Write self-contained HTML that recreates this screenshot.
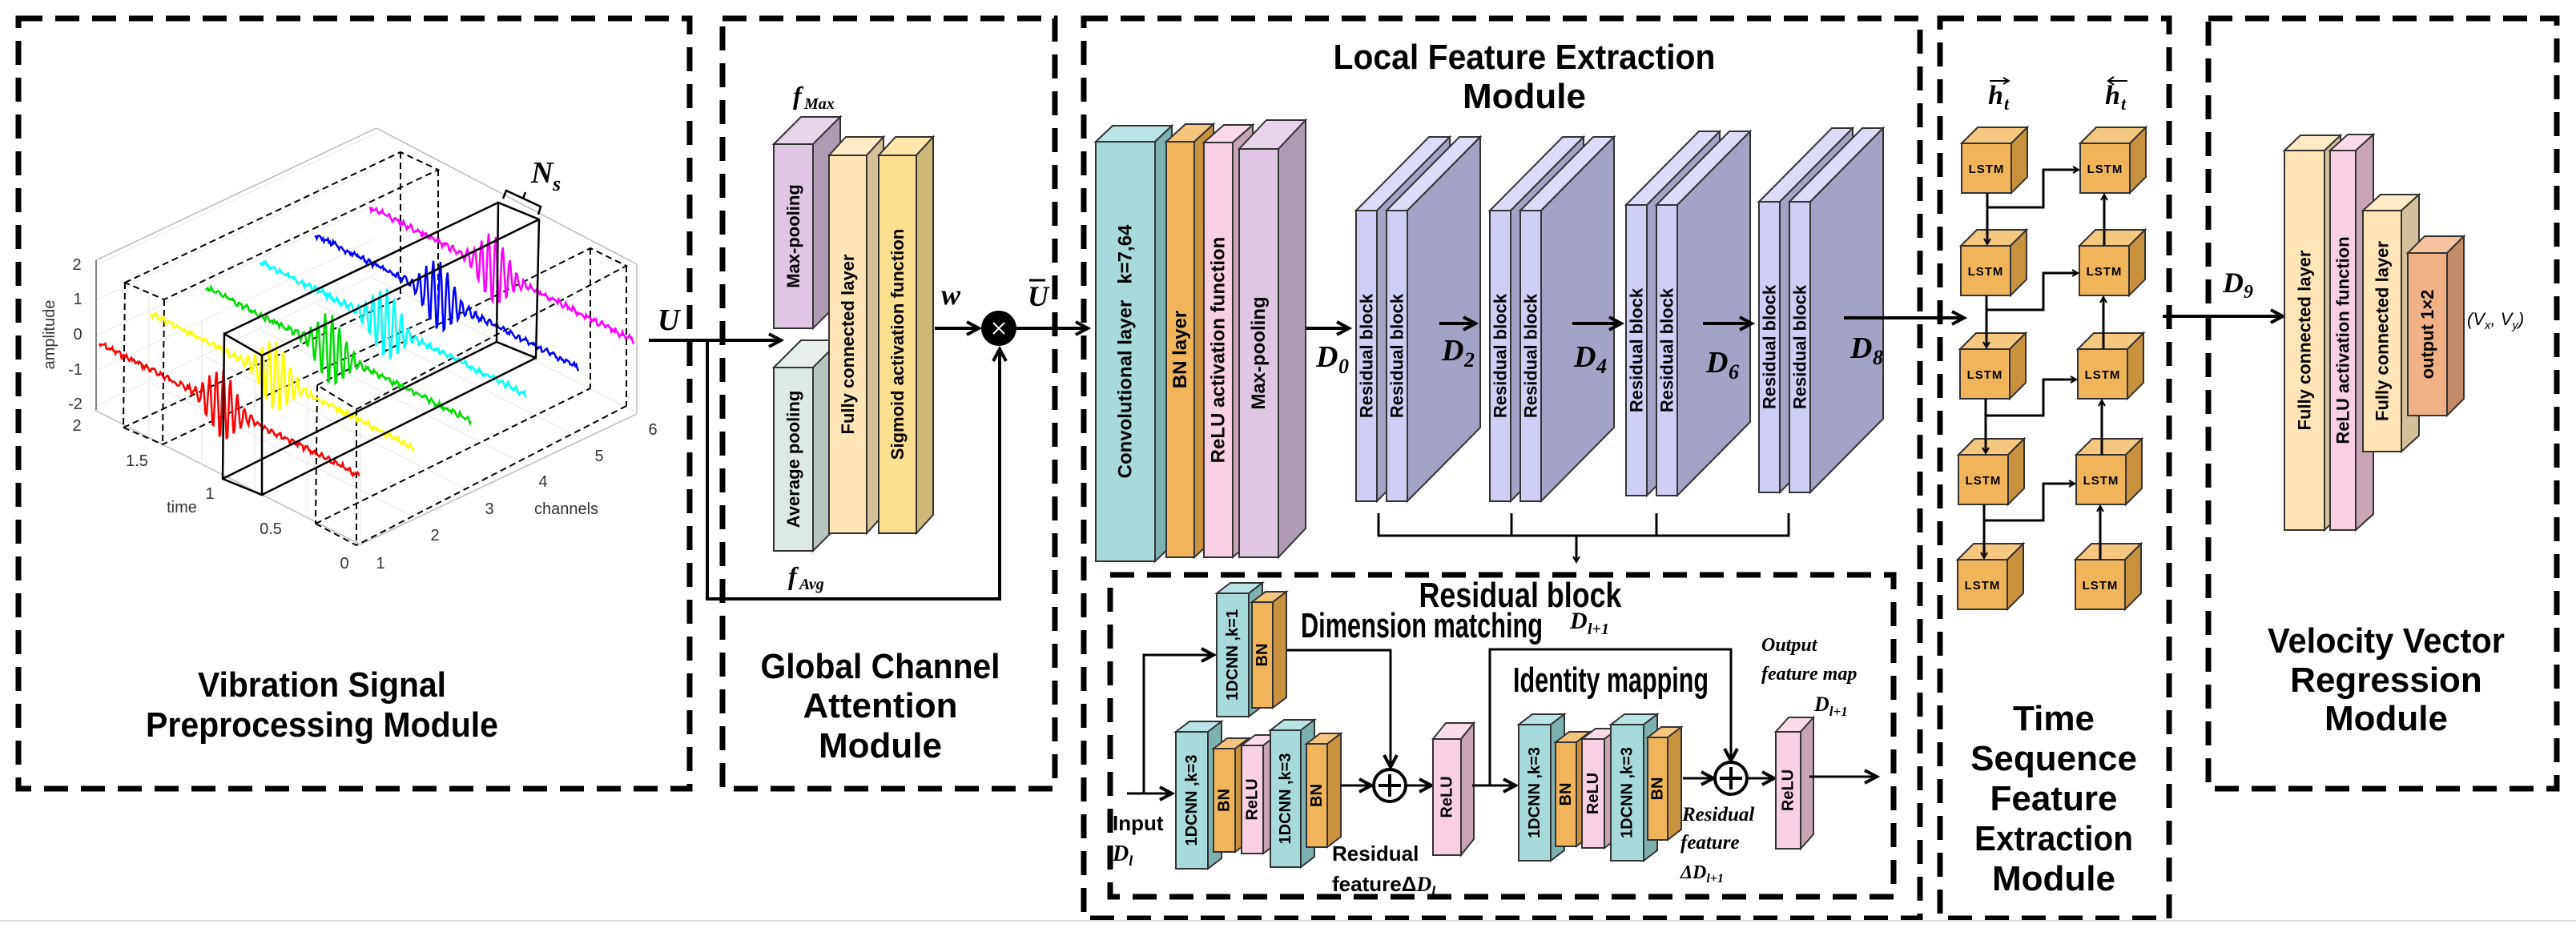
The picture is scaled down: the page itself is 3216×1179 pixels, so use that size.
<!DOCTYPE html>
<html><head><meta charset="utf-8">
<style>
html,body{margin:0;padding:0;background:#fff;}
svg{display:block;}
text{font-family:"Liberation Sans",sans-serif;}
.t{font-weight:bold;font-size:44px;text-anchor:middle;}
.m{font-family:"Liberation Serif",serif;font-weight:bold;font-style:italic;}
.lab{font-weight:bold;text-anchor:middle;dominant-baseline:central;}
.tick{font-size:20px;fill:#333;text-anchor:middle;}
</style></head>
<body>
<svg id="s" width="3216" height="1179" viewBox="0 0 3216 1179" xmlns="http://www.w3.org/2000/svg">
<defs>
<marker id="a" markerWidth="10" markerHeight="10" refX="8" refY="5" orient="auto" markerUnits="userSpaceOnUse" viewBox="0 0 10 10">
<path d="M1,1 L8,5 L1,9" fill="none" stroke="#000" stroke-width="2"/>
</marker>
<marker id="b" markerWidth="22" markerHeight="22" refX="18" refY="11" orient="auto" markerUnits="userSpaceOnUse" viewBox="0 0 22 22">
<path d="M3,3 L18,11 L3,19" fill="none" stroke="#000" stroke-width="4"/>
</marker>
</defs>
<g fill="none" stroke="#000" stroke-width="7" stroke-dasharray="30 16">
<rect x="23" y="23" width="838" height="962"/>
<rect x="902" y="23" width="415" height="962"/>
<rect x="1353" y="23" width="1044" height="1124"/>
<rect x="2422" y="23" width="286" height="1124"/>
<rect x="2757" y="23" width="435" height="962"/>
<rect x="1386" y="718" width="978" height="402"/>
</g>
<line x1="0" y1="1150" x2="3216" y2="1150" stroke="#ddd" stroke-width="2"/>
<g id="g"></g>
</svg>
<script>
var g=document.getElementById('g'),h='';
function cub(x,y,w,H,dx,dy,f,t,s,lab,fs){
 h+='<polygon points="'+[x,y,x+dx,y-dy,x+w+dx,y-dy,x+w,y]+'" fill="'+t+'" stroke="#333" stroke-width="2"/>';
 h+='<polygon points="'+[x+w,y,x+w+dx,y-dy,x+w+dx,y+H-dy,x+w,y+H]+'" fill="'+s+'" stroke="#333" stroke-width="2"/>';
 h+='<rect x="'+x+'" y="'+y+'" width="'+w+'" height="'+H+'" fill="'+f+'" stroke="#333" stroke-width="2"/>';
 if(lab){var cx=x+w/2,cy=y+H/2;h+='<text class="lab" font-size="'+(fs||22)+'" transform="translate('+cx+','+cy+') rotate(-90)">'+lab+'</text>';}
}
function T(x,y,s,fs,cls,extra){h+='<text x="'+x+'" y="'+y+'" font-size="'+fs+'" class="'+(cls||'')+'" '+(extra||'')+'>'+s+'</text>';}
function L(p,mk,w){h+='<polyline points="'+p+'" fill="none" stroke="#000" stroke-width="'+(w||4)+'"'+(mk?' marker-end="url(#'+mk+')"':'')+'/>';}
var TE='#a8dadc',TS='#7fb0b0',OR='#f2b45a',OS='#c9913e',PK='#f8d0e3',PS='#c8a5b5',LI='#dfc7e3',LS='#b09bb5',FC='#fde5b5',FS='#d4c09a';
/* ---- plot ---- */
var gl=[[120,325,120,512],[118,512,450,680],[450,680,795,517],[120,325,470,160],[470,160,795,330],[795,330,795,517]];
gl.forEach(function(l){h+='<line x1="'+l[0]+'" y1="'+l[1]+'" x2="'+l[2]+'" y2="'+l[3]+'" stroke="#bbb" stroke-width="1.5"/>';});
for(var i=1;i<6;i++){var x=120+i*66,y=512+i*34;h+='<line x1="'+x+'" y1="'+(y-180)+'" x2="'+x+'" y2="'+y+'" stroke="#e4e4e4" stroke-width="1"/>';
 h+='<line x1="'+(450+i*69)+'" y1="'+(680-i*33)+'" x2="'+(120+i*69)+'" y2="'+(512-i*33)+'" stroke="#e4e4e4" stroke-width="1"/>';}
for(var i=0;i<5;i++){var y=331+i*44;h+='<line x1="120" y1="'+y+'" x2="470" y2="'+(y-165)+'" stroke="#e8e8e8" stroke-width="1"/>';}
var dsh='stroke="#000" stroke-width="2" stroke-dasharray="8 5" fill="none"';
h+='<path d="M156,353 L500,190 L547,212 L205,374 Z M156,353 L154,534 M205,374 L203,555 M547,212 L547,393 M500,190 L500,372 M154,534 L203,555 L547,393 M154,534 L500,372" '+dsh+'/>';
h+='<path d="M396,481 L737,310 L782,332 L445,511 Z M396,481 L394,654 M445,511 L445,681 M782,332 L782,507 M737,310 L737,485 M394,654 L445,681 L782,507 M394,654 L737,485" '+dsh+'/>';
var sig=[['#f00',124,429,449,594],['#ff0',188,391,517,560],['#0d0',257,359,588,526],['#0ff',325,327,657,493],['#00f',393,293,722,459],['#f0f',462,259,791,425]];
var seed=7;function rnd(){seed=(seed*9301+49297)%233280;return seed/233280-0.5;}
sig.forEach(function(s,k){var p=[];for(var j=0;j<=260;j++){var t=j/260,x=s[1]+(s[3]-s[1])*t,y=s[2]+(s[4]-s[2])*t;
 var env=Math.exp(-Math.pow((t-0.47)/0.07,2));y+=rnd()*5+Math.sin(j*0.9)*(2+42*env);p.push(x.toFixed(1),y.toFixed(1));}
 h+='<polyline points="'+p+'" fill="none" stroke="'+s[0]+'" stroke-width="2.5"/>';});
h+='<path d="M280,417 L327,444 L327,618 L278,598 Z M622,253 L673,274 L669,447 L620,427 Z M280,417 L622,253 M327,444 L673,274 M327,618 L669,447 M278,598 L620,427" stroke="#000" stroke-width="2.5" fill="none"/>';
h+='<path d="M628,248 L632,238 L675,258 L672,268 M653,248 L656,240" stroke="#000" stroke-width="2.5" fill="none"/>';
T(663,228,'N',38,'m');T(690,238,'s',26,'m');
[['2',96,337],['1',97,380],['0',97,424],['-1',94,468],['-2',94,511],['2',96,538],['1.5',171,582],['1',262,623],['0.5',338,667],['0',430,710],['1',475,710],['2',543,675],['3',611,642],['4',678,608],['5',748,576],['6',815,543]].forEach(function(a){T(a[1],a[2],a[0],20,'tick');});
T(227,640,'time',24,'tick');T(707,642,'channels',24,'tick');
h+='<text class="tick" font-size="24" transform="translate(68,418) rotate(-90)">amplitude</text>';
h+='<line x1="120" y1="325" x2="120" y2="512" stroke="#666" stroke-width="1.5"/>';
h+='<text x="402" y="870" class="t" textLength="310" lengthAdjust="spacingAndGlyphs">Vibration Signal</text>';
h+='<text x="402" y="920" class="t" textLength="440" lengthAdjust="spacingAndGlyphs">Preprocessing Module</text>';
/* ---- box2 ---- */
T(821,412,'U',38,'m');
L('810,425 975,425','b');
L('883,425 883,748 1248,748 1248,436','b');
cub(966,180,49,230,34,34,LI,'#e8d5ea',LS,'Max-pooling',22);
cub(966,459,49,229,34,34,'#dde9e6','#e6efec','#b8c4c0','Average pooling',22);
cub(1035,194,47,472,21,23,FC,'#fdebc8',FS,'Fully connected layer',22);
cub(1097,194,47,472,21,23,'#fce08f','#fde7a8','#cdb877','Sigmoid activation function',22);
T(990,130,'f',32,'m');T(1004,136,'Max',20,'m');
T(984,730,'f',32,'m');T(998,736,'Avg',20,'m');
T(1175,380,'w',36,'m');
L('1167,410 1222,410','b');
h+='<circle cx="1247" cy="410" r="22" fill="#000"/><path d="M1240,403 L1254,417 M1254,403 L1240,417" stroke="#fff" stroke-width="2"/>';
T(1283,382,'U',36,'m');h+='<line x1="1285" y1="350" x2="1305" y2="350" stroke="#000" stroke-width="3"/>';
L('1269,410 1358,410','b');
h+='<text x="1099" y="847" class="t" textLength="299" lengthAdjust="spacingAndGlyphs">Global Channel</text>';
h+='<text x="1099" y="896" class="t">Attention</text><text x="1099" y="946" class="t">Module</text>';
/* ---- box3 ---- */
h+='<text x="1903" y="86" class="t" font-size="40" textLength="477" lengthAdjust="spacingAndGlyphs">Local Feature Extraction</text>';
h+='<text x="1903" y="135" class="t" font-size="40">Module</text>';
cub(1368,177,74,524,21,20,TE,'#b9e3e5',TS,'Convolutional layer&#160;&#160;&#160;k=7,64',24);
cub(1456,177,35,519,24,22,OR,'#f5c57e',OS,'BN layer',24);
cub(1503,178,36,518,25,22,PK,'#fadbe9',PS,'ReLU activation function',24);
cub(1547,186,49,510,34,36,LI,'#e8d5ea',LS,'Max-pooling',24);
L('1631,410 1684,410','b');
[[1693,263],[1860,263],[2030,256],[2196,252]].forEach(function(q){
 cub(q[0],q[1],26,363,91,92,'#cfcff5','#dcdcf8','#a3a3c6','Residual block',22);
 cub(q[0]+38,q[1],26,363,91,92,'#cfcff5','#dcdcf8','#a3a3c6','Residual block',22);});
L('1797,404 1842,404','b');L('1963,404 2024,404','b');L('2126,404 2187,404','b');
L('2302,397 2452,397','b');
function D(x,y,sub){T(x,y,'D',38,'m');T(x+28,y+8,sub,26,'m');}
D(1643,458,'0');D(1800,450,'2');D(1965,458,'4');D(2130,465,'6');D(2310,447,'8');
L('1721,641 1721,669 2233,669 2233,641',null,3);L('1887,641 1887,669',null,3);L('2068,641 2068,669',null,3);
L('1968,669 1968,702','a',3);
h+='<text x="1898" y="758" class="t" font-size="30" textLength="253" lengthAdjust="spacingAndGlyphs">Residual block</text>';
h+='<text x="1775" y="796" class="t" font-size="26" textLength="302" lengthAdjust="spacingAndGlyphs">Dimension matching</text>';
T(1960,785,'D',30,'m');T(1982,792,'l+1',20,'m');
L('1407,991 1463,991','b',3);
L('1428,991 1428,818 1515,818','b',3);
cub(1519,741,40,154,17,13,TE,'#b9e3e5',TS,'1DCNN ,k=1',20);
cub(1563,752,26,132,17,13,OR,'#f5c57e',OS,'BN',20);
L('1607,812 1736,812 1736,958','b',3);
cub(1468,914,40,171,17,13,TE,'#b9e3e5',TS,'1DCNN ,k=3',20);
cub(1515,935,27,129,17,13,OR,'#f5c57e',OS,'BN',20);
cub(1550,931,27,135,17,13,PK,'#fadbe9',PS,'ReLU',20);
cub(1586,912,38,171,17,13,TE,'#b9e3e5',TS,'1DCNN ,k=3',20);
cub(1631,929,26,129,17,13,OR,'#f5c57e',OS,'BN',20);
L('1673,981 1712,981','b',3);
function plus(x,y){h+='<circle cx="'+x+'" cy="'+y+'" r="20" fill="#fff" stroke="#000" stroke-width="4"/><path d="M'+(x-14)+','+y+' H'+(x+14)+' M'+x+','+(y-14)+' V'+(y+14)+'" stroke="#000" stroke-width="4"/>';}
plus(1735,981);
L('1755,981 1787,981','b',3);
cub(1789,923,35,145,16,20,PK,'#fadbe9',PS,'ReLU',20);
L('1838,981 1892,981','b',3);
L('1860,981 1860,811 2161,811 2161,950','b',3);
h+='<text x="2011" y="864" class="t" font-size="26" textLength="244" lengthAdjust="spacingAndGlyphs">Identity mapping</text>';
cub(1896,905,40,170,17,13,TE,'#b9e3e5',TS,'1DCNN ,k=3',20);
cub(1942,927,26,130,17,13,OR,'#f5c57e',OS,'BN',20);
cub(1975,923,28,136,17,13,PK,'#fadbe9',PS,'ReLU',20);
cub(2011,905,41,170,17,13,TE,'#b9e3e5',TS,'1DCNN ,k=3',20);
cub(2057,921,25,128,17,13,OR,'#f5c57e',OS,'BN',20);
L('2101,972 2139,972','b',3);
plus(2161,972);
L('2182,972 2215,972','b',3);
cub(2217,914,31,146,16,18,PK,'#fadbe9',PS,'ReLU',20);
L('2259,970 2343,970','b',3);
T(2199,813,'Output',24,'m');T(2199,849,'feature map',24,'m');
h+='<text x="2265" y="888" font-size="26" class="m">D<tspan font-size="17" dy="6">l+1</tspan></text>';
T(1389,1037,'Input',26,'','font-weight="bold"');
h+='<text x="1389" y="1075" font-size="28" class="m">D<tspan font-size="18" dy="6">l</tspan></text>';
T(1663,1075,'Residual',26,'','font-weight="bold"');
h+='<text x="1663" y="1113" font-size="26" font-weight="bold">feature&#916;<tspan class="m">D</tspan><tspan class="m" font-size="18" dy="6">l</tspan></text>';
T(2100,1025,'Residual',25,'m');T(2098,1060,'feature',25,'m');
h+='<text x="2098" y="1097" font-size="24" class="m">&#916;D<tspan font-size="16" dy="5">l+1</tspan></text>';
/* ---- box4 ---- */
var lx=[2449,2448,2447,2445,2444],rx=[2597,2596,2594,2592,2591],ry=[179,307,436,568,699];
for(var i=0;i<5;i++){cub(lx[i],ry[i],62,62,20,20,OR,'#f6c77e',OS);cub(rx[i],ry[i],62,62,20,20,OR,'#f6c77e',OS);
 h+='<text x="'+(lx[i]+31)+'" y="'+(ry[i]+37)+'" font-size="15" font-weight="bold" text-anchor="middle" letter-spacing="1">LSTM</text>';
 h+='<text x="'+(rx[i]+31)+'" y="'+(ry[i]+37)+'" font-size="15" font-weight="bold" text-anchor="middle" letter-spacing="1">LSTM</text>';}
for(var i=0;i<4;i++){var cx=lx[i]+32;L(cx+','+(ry[i]+62)+' '+cx+','+(ry[i+1]-2),'a',3);
 var by=[259,387,519,650][i],ty=[212,341,474,604][i];L(cx+','+by+' 2551,'+by+' 2551,'+ty+' '+(rx[i]-2)+','+ty,'a',3);
 var rc=rx[i]+30;L(rc+','+ry[i+1]+' '+rc+','+(ry[i]+64),'a',3);}
T(2482,130,'h',34,'m');T(2502,137,'t',22,'m');L('2484,101 2508,101','a',2);
T(2628,130,'h',34,'m');T(2648,137,'t',22,'m');h+='<line x1="2632" y1="101" x2="2656" y2="101" stroke="#000" stroke-width="2"/><path d="M2639,96 L2632,101 L2639,106" fill="none" stroke="#000" stroke-width="2"/>';
L('2700,395 2850,395','b');
['Time','Sequence','Feature','Extraction','Module'].forEach(function(s,i){h+='<text x="2564" y="'+(912+i*50)+'" class="t" font-size="42"'+(s=='Extraction'?' textLength="198" lengthAdjust="spacingAndGlyphs"':'')+'>'+s+'</text>';});
/* ---- box5 ---- */
T(2775,365,'D',36,'m');T(2801,372,'9',24,'m');
cub(2852,188,50,474,20,19,FC,'#fdebc8',FS,'Fully connected layer',22);
cub(2909,188,32,474,22,20,PK,'#fadbe9',PS,'ReLU activation function',22);
cub(2950,263,48,301,22,20,FC,'#fdebc8',FS,'Fully connected layer',22);
cub(3006,316,49,203,21,21,'#f2b085','#f5c3a0','#c48a66','output 1&#215;2',22);
h+='<text x="3080" y="406" font-family="Liberation Serif,serif" font-size="22" font-style="italic">(V<tspan font-size="15" dy="5">x</tspan><tspan dy="-5">, V</tspan><tspan font-size="15" dy="5">y</tspan><tspan dy="-5">)</tspan></text>';
h+='<text x="2979" y="815" class="t" font-size="42" textLength="296" lengthAdjust="spacingAndGlyphs">Velocity Vector</text>';
h+='<text x="2979" y="864" class="t" font-size="42">Regression</text><text x="2979" y="912" class="t" font-size="42">Module</text>';
g.innerHTML=h;
</script>
</body></html>
